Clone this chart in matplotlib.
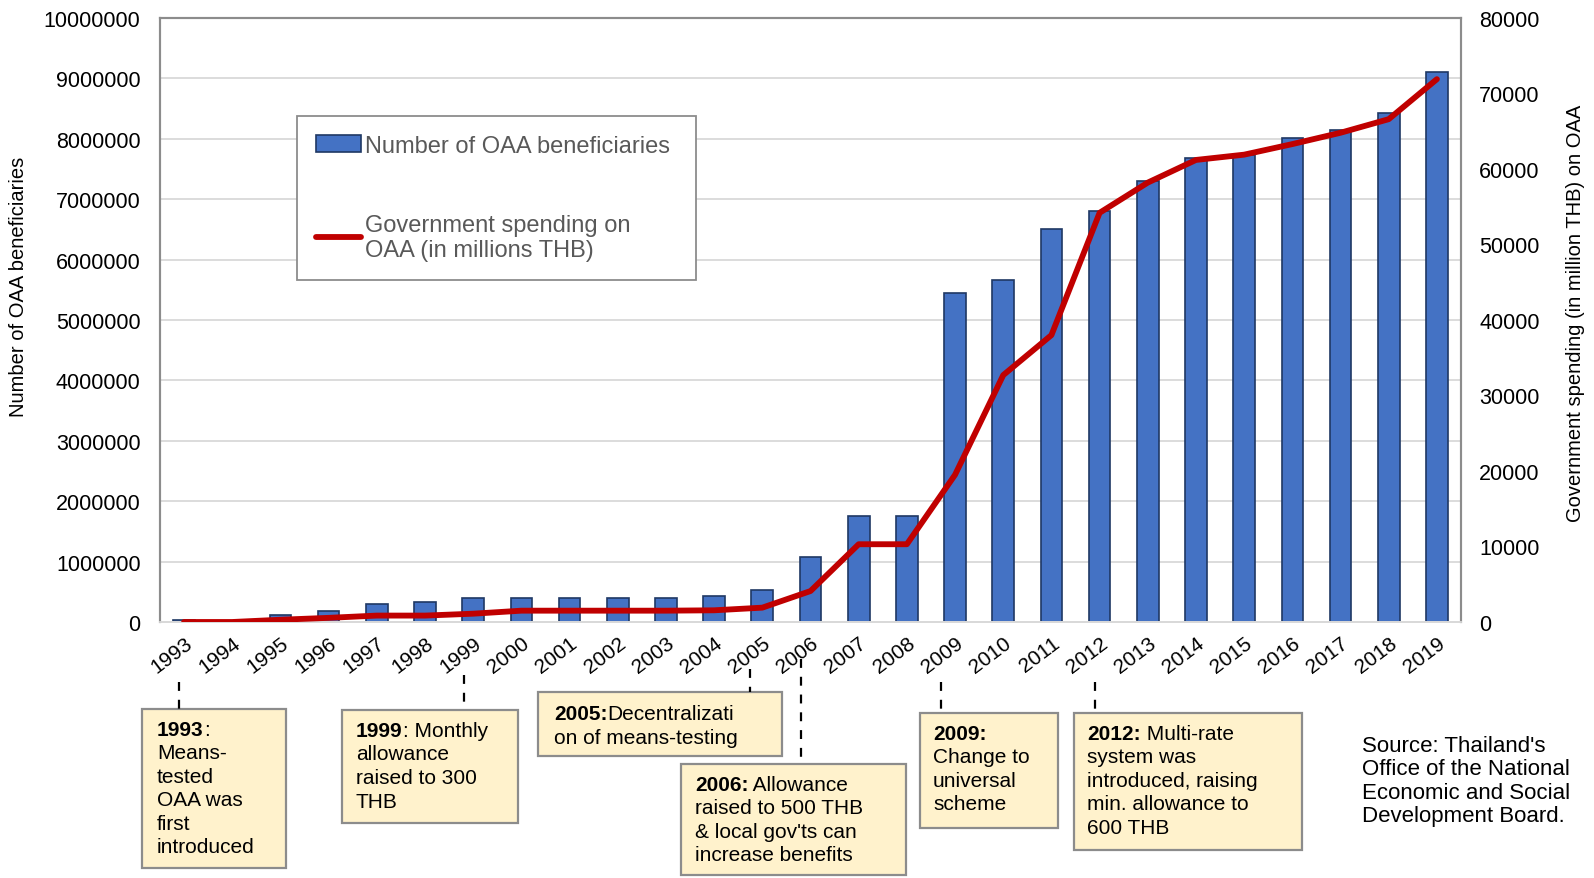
import numpy as np
import matplotlib
matplotlib.use("Agg")
import matplotlib.pyplot as plt
import matplotlib.transforms as mtransforms
from matplotlib.patches import Rectangle
from matplotlib.lines import Line2D
from matplotlib.text import Annotation

plt.rcParams['font.family'] = ['Liberation Sans', 'DejaVu Sans']

years = ['1993', '1994', '1995', '1996', '1997', '1998', '1999', '2000', '2001',
         '2002', '2003', '2004', '2005', '2006', '2007', '2008', '2009', '2010',
         '2011', '2012', '2013', '2014', '2015', '2016', '2017', '2018', '2019']

# number of OAA beneficiaries (left axis)
beneficiaries = [25000, 0, 120000, 185000, 290000, 330000, 390000, 390000, 390000,
                 390000, 390000, 430000, 530000, 1070000, 1750000, 1750000, 5450000, 5670000,
                 6510000, 6800000, 7300000, 7690000, 7740000, 8010000, 8150000, 8420000, 9100000]

# government spending, million THB (right axis)
spending = [0, 0, 300, 550, 850, 850, 1100, 1500, 1500,
            1500, 1500, 1550, 1900, 4100, 10300, 10300, 19500, 32700,
            38000, 54200, 58200, 61200, 61900, 63300, 64800, 66600, 71900]

left_ticks = [0, 1000000, 2000000, 3000000, 4000000, 5000000, 6000000, 7000000, 8000000, 9000000, 10000000]
right_ticks = [0, 10000, 20000, 30000, 40000, 50000, 60000, 70000, 80000]

# timeline notes: year, bold head, rest of first line, following lines
note_years = ['1993', '1999', '2005', '2006', '2009', '2012']
note_heads = ['1993', '1999', '2005:', '2006:', '2009:', '2012:']
note_first = [':', ': Monthly', 'Decentralizati', ' Allowance', '', ' Multi-rate']
note_lines = [
    ['Means-', 'tested', 'OAA was', 'first', 'introduced'],
    ['allowance', 'raised to 300', 'THB'],
    ['on of means-testing'],
    ['raised to 500 THB', "& local gov'ts can", 'increase benefits'],
    ['Change to', 'universal', 'scheme'],
    ['system was', 'introduced, raising', 'min. allowance to', '600 THB'],
]

W, H = 1594, 879


def fx(px):
    return px / W


def fy(py):
    return 1 - py / H


fig = plt.figure(figsize=(W / 100, H / 100), dpi=100)
ax = fig.add_axes([fx(160), fy(623), (1461 - 160) / W, (623 - 19) / H])

x = np.arange(len(years))
bars = ax.bar(x, beneficiaries, width=0.45, color='#4472C4', edgecolor='#1F3864',
              linewidth=1.2, zorder=2, label='Number of OAA beneficiaries')
ax.set_xlim(-0.5, len(years) - 0.5)
ax.set_ylim(0, 10000000)
ax.set_yticks(left_ticks)
ax.set_yticklabels([str(v) for v in left_ticks])
ax.set_xticks(x)
ax.set_xticklabels(years, rotation=37, ha='right', va='top', rotation_mode='anchor')
ax.grid(axis='y', color='#D9D9D9', linewidth=1.3)
ax.set_axisbelow(True)
ax.tick_params(axis='y', length=0, labelsize=15.5, pad=14)
ax.tick_params(axis='x', length=0, labelsize=15, pad=8)
ax.set_ylabel('Number of OAA beneficiaries', fontsize=14.5)
ax.yaxis.set_label_coords(-(160 - 28) / (1461 - 160), (623 - 287) / (623 - 19))

ax2 = ax.twinx()
line, = ax2.plot(x, spending, color='#C00000', linewidth=4.2, solid_capstyle='round',
                 solid_joinstyle='round', zorder=3,
                 label='Government spending on\nOAA (in millions THB)')
ax2.set_ylim(0, 80000)
ax2.set_yticks(right_ticks)
ax2.set_yticklabels([str(v) for v in right_ticks])
ax2.tick_params(axis='y', length=0, labelsize=15.5, pad=13)
ax2.set_ylabel('Government spending (in million THB) on OAA', fontsize=14.5, rotation=90)
ax2.yaxis.set_label_coords(1 + (1566 - 1461) / (1461 - 160), (623 - 313) / (623 - 19))

for a in (ax, ax2):
    for side in ('left', 'right', 'top'):
        a.spines[side].set_color('#8C8C8C')
        a.spines[side].set_linewidth(1.5)
    a.spines['bottom'].set_color('#D9D9D9')
    a.spines['bottom'].set_linewidth(1.3)

leg = ax2.legend([bars, line], [bars.get_label(), line.get_label()],
                 loc='upper left', mode='expand',
                 bbox_to_anchor=(fx(297), fy(277), 399 / W, 160 / H),
                 bbox_transform=fig.transFigure, borderaxespad=0,
                 fontsize=17, labelspacing=2.4, handlelength=1.9, handletextpad=0.2,
                 borderpad=0.8, fancybox=False, framealpha=1, edgecolor='#8C8C8C')
leg.get_frame().set_linewidth(1.3)
for t in leg.get_texts():
    t.set_color('#595959')

# note boxes (pixel layout: box left, top, right, bottom, text left, text top, dash start)
boxes = [
    (142, 710, 286, 869, 157, 721, 683),
    (342, 711, 518, 824, 356, 722, 676),
    (538, 693, 782, 757, 554, 705, 670),
    (681, 765, 906, 876, 695, 776, 660),
    (920, 714, 1058, 829, 933, 725, 683),
    (1074, 714, 1302, 851, 1087, 725, 683),
]
dash_shift = [-0.1, -0.2, -0.25, -0.2, -0.3, -0.1]
pitch = 23.5
note_size = 15
blend = mtransforms.blended_transform_factory(ax.transData, fig.transFigure)

for yr, head, first, rest, (bx0, by0, bx1, by1, tx, ty, dy0), sh in zip(
        note_years, note_heads, note_first, note_lines, boxes, dash_shift):
    fig.add_artist(Rectangle((fx(bx0), fy(by1)), (bx1 - bx0) / W, (by1 - by0) / H,
                             transform=fig.transFigure, facecolor='#FFF2CC',
                             edgecolor='#8C8C8C', linewidth=1.6, zorder=4))
    xi = years.index(yr) + sh
    fig.add_artist(Line2D([xi, xi], [fy(dy0), fy(by0)], transform=blend,
                          color='black', linewidth=1.6, linestyle=(0, (4, 4)), zorder=4))
    t_head = fig.text(fx(tx), fy(ty), head, fontsize=note_size, fontweight='bold',
                      va='top', ha='left', zorder=5)
    if first:
        fig.add_artist(Annotation(first, xy=(1, 0), xycoords=t_head, va='bottom',
                                  ha='left', fontsize=note_size, zorder=5))
    for i, s in enumerate(rest):
        fig.text(fx(tx), fy(ty + (i + 1) * pitch), s, fontsize=note_size,
                 va='top', ha='left', zorder=5)

fig.text(fx(1362), fy(736), "Source: Thailand's\nOffice of the National\n"
         "Economic and Social\nDevelopment Board.", fontsize=16, va='top', ha='left',
         linespacing=1.15)

fig.savefig('out.png', dpi=100)
